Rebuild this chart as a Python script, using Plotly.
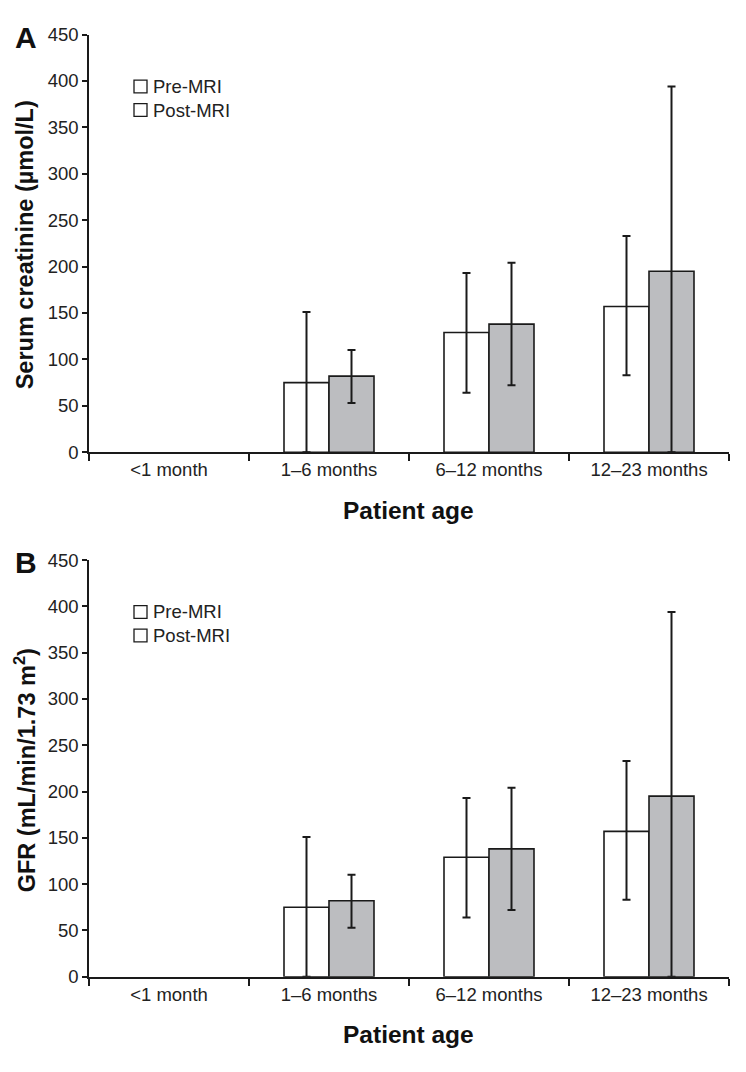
import plotly.graph_objects as go

W, H = 746, 1072

categories = ["<1 month", "1–6 months", "6–12 months", "12–23 months"]

# Panel A: serum creatinine (µmol/L)
a_pre = [None, 75, 129, 157]
a_pre_up = [None, 76, 64, 76]
a_pre_down = [None, 75, 65, 74]
a_post = [None, 82, 138, 195]
a_post_up = [None, 28, 66, 199]
a_post_down = [None, 29, 66, 195]

# Panel B: GFR (mL/min/1.73 m²)
b_pre = [None, 75, 129, 157]
b_pre_up = [None, 76, 64, 76]
b_pre_down = [None, 75, 65, 74]
b_post = [None, 82, 138, 195]
b_post_up = [None, 28, 66, 199]
b_post_down = [None, 29, 66, 195]

y_ticks = [0, 50, 100, 150, 200, 250, 300, 350, 400, 450]
series_names = ["Pre-MRI", "Post-MRI"]
pre_color = "#ffffff"
post_color = "#bcbdc0"

FONT = "Liberation Sans, Arial, Helvetica, sans-serif"


def px_x(p):
    return p / W


def px_y(p):
    return 1 - p / H


fig = go.Figure()

panels = [
    dict(pre=a_pre, pre_up=a_pre_up, pre_dn=a_pre_down,
         post=a_post, post_up=a_post_up, post_dn=a_post_down,
         xa="x", ya="y"),
    dict(pre=b_pre, pre_up=b_pre_up, pre_dn=b_pre_down,
         post=b_post, post_up=b_post_up, post_dn=b_post_down,
         xa="x2", ya="y2"),
]

for p in panels:
    for name, vals, up, dn, col in [
        (series_names[0], p["pre"], p["pre_up"], p["pre_dn"], pre_color),
        (series_names[1], p["post"], p["post_up"], p["post_dn"], post_color),
    ]:
        fig.add_trace(go.Bar(
            x=categories, y=vals, name=name, showlegend=False,
            xaxis=p["xa"], yaxis=p["ya"],
            marker=dict(color=col, line=dict(color="#1a1a1a", width=1.6)),
            error_y=dict(type="data", symmetric=False, array=up, arrayminus=dn,
                         color="#1a1a1a", thickness=2, width=4),
        ))

# plot areas in pixels
x_left, x_right = 89, 729
A_top, A_bot = 24, 450
B_top, B_bot = 560, 985

axis_common_x = dict(
    type="category", categoryorder="array", categoryarray=categories,
    range=[-0.5, 3.5], showline=True, linecolor="#1a1a1a", linewidth=1.6,
    ticks="outside", tickson="boundaries", ticklen=7, tickwidth=1.6, tickcolor="#1a1a1a",
    showgrid=False, zeroline=False,
    tickfont=dict(family=FONT, size=18.5, color="#222222"),
    domain=[px_x(x_left), px_x(x_right)],
)
axis_common_y = dict(
    range=[0, 450], tickvals=y_ticks, showline=True, linecolor="#1a1a1a", linewidth=1.6,
    ticks="outside", ticklen=5, tickwidth=1.6, tickcolor="#1a1a1a",
    showgrid=False, zeroline=False,
    tickfont=dict(family=FONT, size=18.5, color="#222222"),
)

fig.update_layout(
    width=W, height=H,
    margin=dict(l=0, r=0, t=0, b=0),
    paper_bgcolor="white", plot_bgcolor="white",
    barmode="group", bargap=0.4375, bargroupgap=0,
    showlegend=False,
    xaxis=dict(axis_common_x, anchor="y"),
    yaxis=dict(axis_common_y, anchor="x", domain=[px_y(A_bot), px_y(A_top)]),
    xaxis2=dict(axis_common_x, anchor="y2"),
    yaxis2=dict(axis_common_y, anchor="x2", domain=[px_y(B_bot), px_y(B_top)]),
    font=dict(family=FONT, color="#222222"),
)

annotations = []
shapes = []

panel_text = [
    ("A", "Serum creatinine (µmol/L)", A_top, A_bot),
    ("B", "GFR (mL/min/1.73 m<sup>2</sup>)", B_top, B_bot),
]
for letter, ytitle, top, bot in panel_text:
    annotations.append(dict(
        text="<b>%s</b>" % letter, x=px_x(26), y=px_y(top + 3), xref="paper", yref="paper",
        showarrow=False, xanchor="center", yanchor="middle",
        font=dict(family=FONT, size=30, color="#111111")))
    annotations.append(dict(
        text="<b>%s</b>" % ytitle, x=px_x(25), y=px_y((top + bot) / 2 + 2), xref="paper", yref="paper",
        showarrow=False, xanchor="center", yanchor="middle", textangle=-90,
        font=dict(family=FONT, size=23.5, color="#111111")))
    annotations.append(dict(
        text="<b>Patient age</b>", x=px_x((x_left + x_right) / 2 - 1), y=px_y(bot + 59),
        xref="paper", yref="paper", showarrow=False, xanchor="center", yanchor="middle",
        font=dict(family=FONT, size=24.5, color="#111111")))
    # legend (both swatches drawn white as in the original)
    for i, name in enumerate(series_names):
        cy = top + 53 + 24 * i
        shapes.append(dict(
            type="rect", xref="paper", yref="paper",
            x0=px_x(134), x1=px_x(147), y0=px_y(cy - 6.5), y1=px_y(cy + 6.5),
            line=dict(color="#1a1a1a", width=1.3), fillcolor="white"))
        annotations.append(dict(
            text=name, x=px_x(151), y=px_y(cy), xref="paper", yref="paper",
            showarrow=False, xanchor="left", yanchor="middle",
            font=dict(family=FONT, size=18.5, color="#222222")))

fig.update_layout(annotations=annotations, shapes=shapes)

fig.write_html("out.html")
